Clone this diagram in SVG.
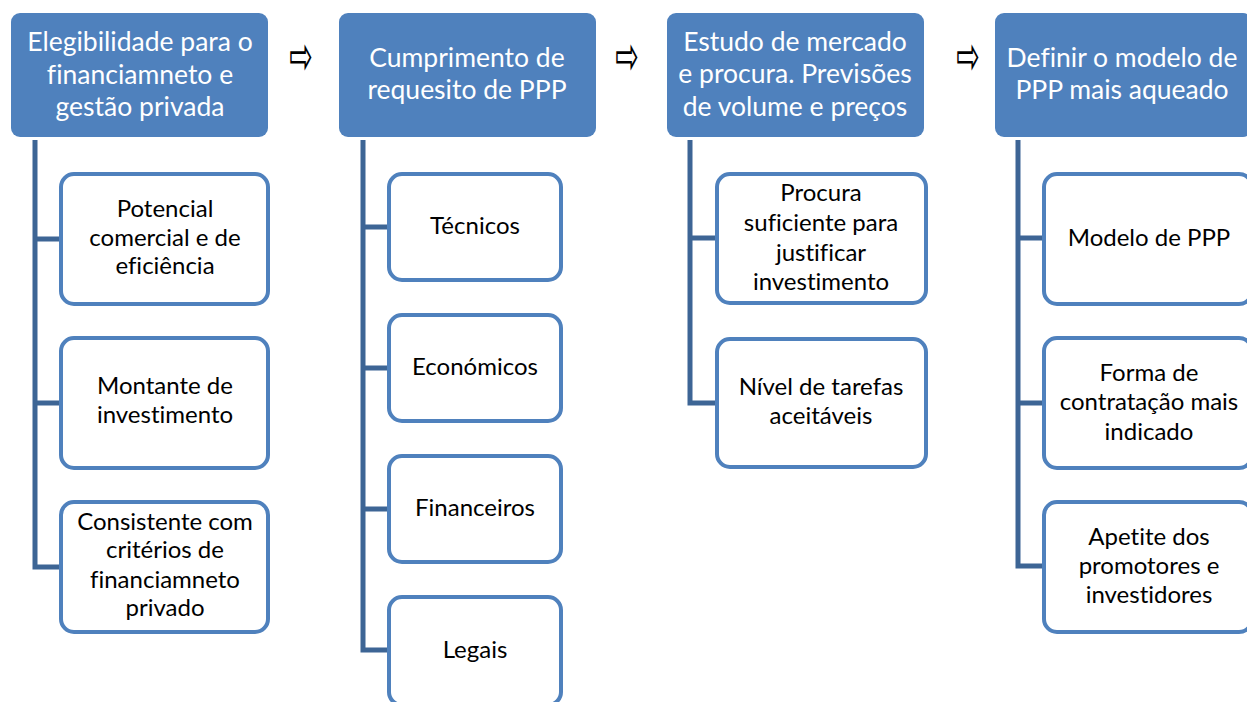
<svg xmlns="http://www.w3.org/2000/svg" width="1247" height="702" viewBox="0 0 1247 702">
<style>
.hdr{fill:#4F81BD;}
.ht{font-family:Lato,"Liberation Sans",sans-serif;font-size:26.5px;fill:#fff;text-anchor:middle;font-variant-ligatures:none;}
.box{fill:#fff;stroke:#4F81BD;stroke-width:4;}
.ct{font-family:Lato,"Liberation Sans",sans-serif;font-size:24px;fill:#000;text-anchor:middle;font-variant-ligatures:none;}
.con{fill:none;stroke:#3D6595;stroke-width:5;}
.arr{font-family:"DejaVu Sans",sans-serif;font-size:28px;fill:#000;text-anchor:middle;}
</style>
<rect width="1247" height="702" fill="#fff"/>
<g id="connectors">
<path class="con" d="M35 140 V567 H61 M35 239 H61 M35 403 H61"/>
<path class="con" d="M363 140 V650 H389 M363 227 H389 M363 368 H389 M363 509 H389"/>
<path class="con" d="M690 140 V403 H717 M690 238 H717"/>
<path class="con" d="M1018 140 V566 H1044 M1018 238 H1044 M1018 403 H1044"/>
</g>
<g id="arrows">
<text class="arr" transform="translate(301 74) scale(1 1.9)">⇨</text>
<text class="arr" transform="translate(627 74) scale(1 1.9)">⇨</text>
<text class="arr" transform="translate(968 74) scale(1 1.9)">⇨</text>
</g>
<g id="h1"><rect class="hdr" x="11" y="13" width="257" height="124" rx="9"/>
<text class="ht" x="140" y="51">Elegibilidade para o</text>
<text class="ht" x="140" y="84">financiamneto e</text>
<text class="ht" x="140" y="116">gestão privada</text></g>
<g id="h2"><rect class="hdr" x="339" y="13" width="257" height="124" rx="9"/>
<text class="ht" x="467" y="67">Cumprimento de</text>
<text class="ht" x="467" y="99">requesito de PPP</text></g>
<g id="h3"><rect class="hdr" x="667" y="13" width="257" height="124" rx="9"/>
<text class="ht" x="795" y="51">Estudo de mercado</text>
<text class="ht" x="795" y="83">e procura. Previsões</text>
<text class="ht" x="795" y="116">de volume e preços</text></g>
<g id="h4"><rect class="hdr" x="995" y="13" width="257" height="124" rx="9"/>
<text class="ht" x="1122" y="67">Definir o modelo de</text>
<text class="ht" x="1122" y="99">PPP mais aqueado</text></g>

<g id="c1a"><rect class="box" x="61" y="174" width="207" height="130" rx="13"/>
<text class="ct" x="165" y="217">Potencial</text>
<text class="ct" x="165" y="246">comercial e de</text>
<text class="ct" x="165" y="274">eficiência</text></g>
<g id="c1b"><rect class="box" x="61" y="338" width="207" height="130" rx="13"/>
<text class="ct" x="165" y="394">Montante de</text>
<text class="ct" x="165" y="423">investimento</text></g>
<g id="c1c"><rect class="box" x="61" y="502" width="207" height="130" rx="13"/>
<text class="ct" x="165" y="530">Consistente com</text>
<text class="ct" x="165" y="558">critérios de</text>
<text class="ct" x="165" y="588">financiamneto</text>
<text class="ct" x="165" y="616">privado</text></g>

<g id="c2a"><rect class="box" x="389" y="174" width="172" height="106" rx="13"/>
<text class="ct" x="475" y="234">Técnicos</text></g>
<g id="c2b"><rect class="box" x="389" y="315" width="172" height="106" rx="13"/>
<text class="ct" x="475" y="375">Económicos</text></g>
<g id="c2c"><rect class="box" x="389" y="456" width="172" height="106" rx="13"/>
<text class="ct" x="475" y="516">Financeiros</text></g>
<g id="c2d"><rect class="box" x="389" y="597" width="172" height="108" rx="13"/>
<text class="ct" x="475" y="658">Legais</text></g>

<g id="c3a"><rect class="box" x="717" y="174" width="209" height="129" rx="13"/>
<text class="ct" x="821" y="201">Procura</text>
<text class="ct" x="821" y="231">suficiente para</text>
<text class="ct" x="821" y="261">justificar</text>
<text class="ct" x="821" y="290">investimento</text></g>
<g id="c3b"><rect class="box" x="717" y="339" width="209" height="128" rx="13"/>
<text class="ct" x="821" y="395">Nível de tarefas</text>
<text class="ct" x="821" y="424">aceitáveis</text></g>

<g id="c4a"><rect class="box" x="1044" y="174" width="208" height="130" rx="13"/>
<text class="ct" x="1149" y="246">Modelo de PPP</text></g>
<g id="c4b"><rect class="box" x="1044" y="338" width="208" height="130" rx="13"/>
<text class="ct" x="1149" y="381">Forma de</text>
<text class="ct" x="1149" y="410">contratação mais</text>
<text class="ct" x="1149" y="440">indicado</text></g>
<g id="c4c"><rect class="box" x="1044" y="502" width="208" height="130" rx="13"/>
<text class="ct" x="1149" y="545">Apetite dos</text>
<text class="ct" x="1149" y="574">promotores e</text>
<text class="ct" x="1149" y="603">investidores</text></g>
</svg>
